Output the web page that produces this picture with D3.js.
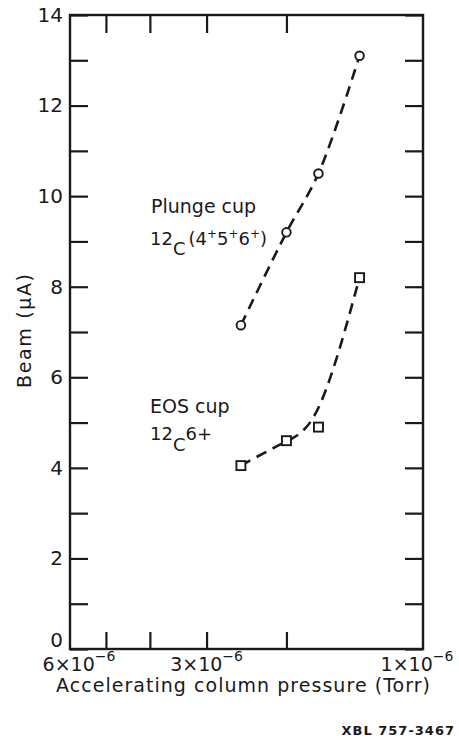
<!DOCTYPE html>
<html>
<head>
<meta charset="utf-8">
<script src="https://cdn.jsdelivr.net/npm/d3@7"></script>
<style>
  body { margin: 0; background: #fff; }
  svg { display: block; }
  text { font-family: "DejaVu Sans", sans-serif; fill: #1a1a1a; }
</style>
</head>
<body>
<svg id="chart" width="459" height="741"></svg>
<script>
// values (pressure in Torr, beam in microamps)
const pressure = [2.52e-6, 2.0e-6, 1.7e-6, 1.38e-6];
const plungeBeam = [7.15, 9.2, 10.5, 13.1];
const eosBeam = [4.05, 4.6, 4.9, 8.2];

const minorPressureTicks = [5e-6, 4e-6, 3e-6, 2e-6];
const pressureLabels = [
  { p: 6e-6, base: "6×10", exp: "−6", dx: 9 },
  { p: 3e-6, base: "3×10", exp: "−6", dx: 0 },
  { p: 1e-6, base: "1×10", exp: "−6", dx: -6 }
];
const beamTicks = d3.range(0, 15);

const ink = "#1a1a1a";
const svg = d3.select("#chart");

const x = d3.scaleLog().domain([6e-6, 1e-6]).range([70, 423]);
const y = d3.scaleLinear().domain([0, 14]).range([649, 15]);

const styleAxis = g => {
  g.select(".domain").remove();
  g.selectAll(".tick line").attr("stroke", ink).attr("stroke-width", 2.2);
  g.selectAll(".tick text")
    .attr("fill", ink)
    .style("font-size", "20px")
    .style("font-family", "DejaVu Sans, sans-serif");
};

// left axis, ticks pointing inward
svg.append("g")
  .attr("transform", `translate(${x.range()[0]},0)`)
  .call(d3.axisLeft(y)
    .tickValues(beamTicks)
    .tickSizeInner(-18)
    .tickSizeOuter(0)
    .tickPadding(7)
    .tickFormat(d => (d % 2 === 0 ? d : "")))
  .call(styleAxis)
  .call(g => g.selectAll(".tick text").filter(d => d === 0).attr("dy", "-0.12em"));

svg.append("g")
  .attr("transform", `translate(${x.range()[1]},0)`)
  .call(d3.axisRight(y).tickValues(beamTicks).tickSizeInner(-18).tickSizeOuter(0).tickFormat(""))
  .call(styleAxis);

svg.append("g")
  .attr("transform", `translate(0,${y.range()[1]})`)
  .call(d3.axisTop(x).tickValues(minorPressureTicks).tickSizeInner(-18).tickSizeOuter(0).tickFormat(""))
  .call(styleAxis);

svg.append("g")
  .attr("transform", `translate(0,${y.range()[0]})`)
  .call(d3.axisBottom(x).tickValues(minorPressureTicks).tickSizeInner(-17).tickSizeOuter(0).tickFormat(""))
  .call(styleAxis);

// frame
svg.append("rect")
  .attr("x", x.range()[0])
  .attr("y", y.range()[1])
  .attr("width", x.range()[1] - x.range()[0])
  .attr("height", y.range()[0] - y.range()[1])
  .attr("fill", "none")
  .attr("stroke", ink)
  .attr("stroke-width", 2.4);

// bottom labels with exponents
const xl = svg.append("g").selectAll("text")
  .data(pressureLabels)
  .join("text")
  .attr("x", d => x(d.p) + d.dx)
  .attr("y", 671)
  .attr("text-anchor", "middle")
  .style("font-size", "19px");
xl.append("tspan").text(d => d.base);
xl.append("tspan").attr("dy", -10).style("font-size", "14px").text(d => d.exp);

svg.append("text")
  .attr("x", 243)
  .attr("y", 692)
  .attr("text-anchor", "middle")
  .attr("textLength", 374)
  .attr("lengthAdjust", "spacing")
  .style("font-size", "19px")
  .text("Accelerating column pressure (Torr)");

svg.append("text")
  .attr("transform", "translate(31,331) rotate(-90)")
  .attr("text-anchor", "middle")
  .attr("textLength", 114)
  .attr("lengthAdjust", "spacing")
  .style("font-size", "19px")
  .text("Beam (μA)");

svg.append("text")
  .attr("x", 455)
  .attr("y", 735)
  .attr("text-anchor", "end")
  .style("font-size", "13px")
  .style("font-weight", "bold")
  .style("letter-spacing", "1px")
  .text("XBL 757-3467");

// series labels
svg.append("text").attr("x", 151).attr("y", 213).style("font-size", "19px").text("Plunge cup");
const pl = svg.append("text").attr("x", 150).attr("y", 245).style("font-size", "18px");
pl.append("tspan").text("12");
pl.append("tspan").attr("dy", 10).text("C");
pl.append("tspan").attr("dy", -10).attr("dx", 3).text("(4");
pl.append("tspan").attr("dy", -7).style("font-size", "12px").text("+");
pl.append("tspan").attr("dy", 7).text("5");
pl.append("tspan").attr("dy", -7).style("font-size", "12px").text("+");
pl.append("tspan").attr("dy", 7).text("6");
pl.append("tspan").attr("dy", -7).style("font-size", "12px").text("+");
pl.append("tspan").attr("dy", 7).text(")");

svg.append("text").attr("x", 150).attr("y", 413).style("font-size", "19px").text("EOS cup");
const el = svg.append("text").attr("x", 150).attr("y", 440).style("font-size", "18px");
el.append("tspan").text("12");
el.append("tspan").attr("dy", 11).text("C");
el.append("tspan").attr("dy", -11).text("6+");

// curves: the plunge trace runs through its points, the EOS trace is a smooth fit
const plunge = d3.zip(pressure, plungeBeam);
const eos = d3.zip(pressure, eosBeam);

const lineThrough = d3.line()
  .x(d => x(d[0]))
  .y(d => y(d[1]))
  .curve(d3.curveCatmullRom.alpha(0.5));
const lineFit = d3.line()
  .x(d => x(d[0]))
  .y(d => y(d[1]))
  .curve(d3.curveBasis);

[[plunge, lineThrough], [eos, lineFit]].forEach(([s, gen]) => {
  svg.append("path")
    .attr("d", gen(s))
    .attr("fill", "none")
    .attr("stroke", ink)
    .attr("stroke-width", 2.6)
    .attr("stroke-dasharray", "11,7");
});

svg.append("g").selectAll("circle")
  .data(plunge)
  .join("circle")
  .attr("cx", d => x(d[0]))
  .attr("cy", d => y(d[1]))
  .attr("r", 4.3)
  .attr("fill", "#fff")
  .attr("stroke", ink)
  .attr("stroke-width", 1.9);

const sq = 9;
svg.append("g").selectAll("rect")
  .data(eos)
  .join("rect")
  .attr("x", d => x(d[0]) - sq / 2)
  .attr("y", d => y(d[1]) - sq / 2)
  .attr("width", sq)
  .attr("height", sq)
  .attr("fill", "#fff")
  .attr("stroke", ink)
  .attr("stroke-width", 1.9);
</script>
</body>
</html>
